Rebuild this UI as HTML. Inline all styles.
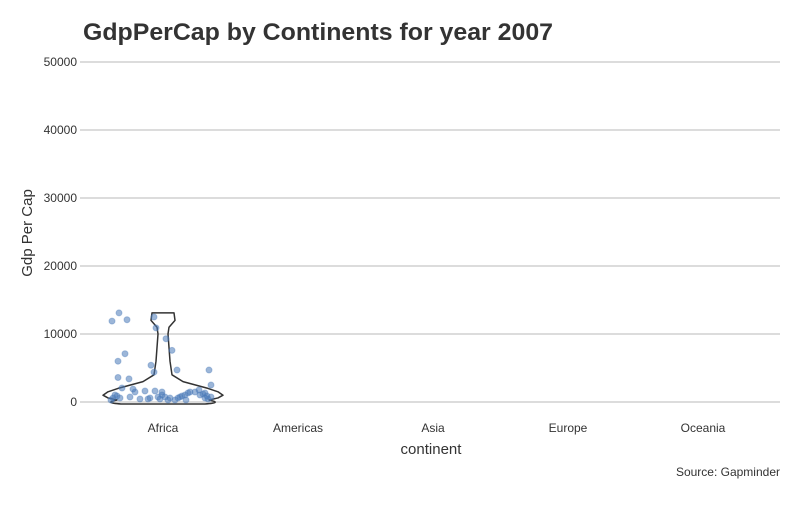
<!DOCTYPE html>
<html><head><meta charset="utf-8"><style>
body{margin:0;background:#fff;}
svg text{font-family:"Liberation Sans",sans-serif;}
</style></head><body>
<svg id="chart" width="800" height="500">
<text x="83" y="40" font-size="24" font-weight="bold" fill="#333" textLength="470" lengthAdjust="spacingAndGlyphs">GdpPerCap by Continents for year 2007</text>
<g id="grid"></g><g id="marks"></g>
<text x="431" y="454" font-size="15" fill="#333" text-anchor="middle">continent</text>
<text transform="translate(32,233) rotate(-90)" font-size="15" fill="#333" text-anchor="middle">Gdp Per Cap</text>
<text x="780" y="476" font-size="12" fill="#333" text-anchor="end">Source: Gapminder</text>
</svg>
<script>
const categories=["Africa","Americas","Asia","Europe","Oceania"];
const yTicks=[0,10000,20000,30000,40000,50000];
const africaGdp=[11900,13100,12100,12500,10900,9300,7600,6000,7100,3600,3400,5400,4400,4700,4700,2500,880,2060,1900,1470,1620,1620,1470,1030,590,290,740,590,740,440,1030,740,590,290,590,740,880,1030,1320,1470,1470,1760,1030,1180,1320,880,590,440,440,440,290,290,590,740];
const africaJitter=[-51,-44,-36,-9,-7,3,9,-45,-38,-45,-34,-12,-9,14,46,48,-46,-41,-30,-28,-18,-8,-1,-48,-50,-52,-33,-13,-5,-3,-1,2,7,12,15,17,19,22,25,27,32,36,37,40,42,44,42,45,-15,-23,23,5,-43,48];
const violinLevels=[13100,12000,11000,10000,8000,6000,4000,3000,2000,1500,1000,600,300];
const violinHalfWidth=[11,12,6,5,6,7,9,20,45,55,60,55,46];
const x0=80,x1=780,bandStart=95.5,bandW=135,yBase=402,pxPer=6.8/1000;
const xPos=i=>bandStart+(i+0.5)*bandW;
const yPos=v=>yBase-v*pxPer;
const NS="http://www.w3.org/2000/svg";
const grid=document.getElementById('grid'),marks=document.getElementById('marks');
yTicks.forEach(t=>{
 const l=document.createElementNS(NS,'line');
 l.setAttribute('x1',x0);l.setAttribute('x2',x1);l.setAttribute('y1',yPos(t));l.setAttribute('y2',yPos(t));
 l.setAttribute('stroke','#d0d0d0');l.setAttribute('stroke-width','1.5');
 
 
 grid.appendChild(l);
 const tx=document.createElementNS(NS,'text');
 tx.setAttribute('x',77);tx.setAttribute('y',yPos(t)+4);tx.setAttribute('text-anchor','end');tx.setAttribute('font-size','12');tx.setAttribute('fill','#333');
 tx.textContent=t;
 
 
 grid.appendChild(tx);
});
categories.forEach((c,i)=>{
 const tx=document.createElementNS(NS,'text');
 tx.setAttribute('x',xPos(i));tx.setAttribute('y',432);tx.setAttribute('text-anchor','middle');tx.setAttribute('font-size','12');tx.setAttribute('fill','#333');
 tx.textContent=c;
 
 
 grid.appendChild(tx);
});
const cx=xPos(0);
let right=[],left=[];
violinLevels.forEach((v,k)=>{right.push([cx+violinHalfWidth[k],yPos(v)]);left.push([cx-violinHalfWidth[k],yPos(v)]);});
const last=violinLevels.length-1;
let d='M'+left[0].join(',')+' L'+right[0].join(',');
for(let k=1;k<=last;k++)d+=' L'+right[k].join(',');
d+=' Q'+(cx+violinHalfWidth[last]+14)+','+(yPos(violinLevels[last])+3)+' '+(cx+violinHalfWidth[last]-4)+','+(yPos(violinLevels[last])+4);
d+=' L'+(cx-violinHalfWidth[last]+4)+','+(yPos(violinLevels[last])+4);
d+=' Q'+(cx-violinHalfWidth[last]-14)+','+(yPos(violinLevels[last])+3)+' '+left[last].join(',');
for(let k=last-1;k>=0;k--)d+=' L'+left[k].join(',');
d+='Z';
const p=document.createElementNS(NS,'path');
p.setAttribute('d',d);p.setAttribute('fill','none');p.setAttribute('stroke','#333');p.setAttribute('stroke-width','1.5');p.setAttribute('stroke-linejoin','round');


marks.appendChild(p);
africaGdp.forEach((v,i)=>{
 const c=document.createElementNS(NS,'circle');
 c.setAttribute('cx',cx+africaJitter[i]);c.setAttribute('cy',yPos(v));c.setAttribute('r',3);
 c.setAttribute('fill','#4a7ab8');c.setAttribute('fill-opacity','0.55');c.setAttribute('stroke','#4a7ab8');c.setAttribute('stroke-opacity','0.4');
 
 
 marks.appendChild(c);
});
</script>
</body></html>
